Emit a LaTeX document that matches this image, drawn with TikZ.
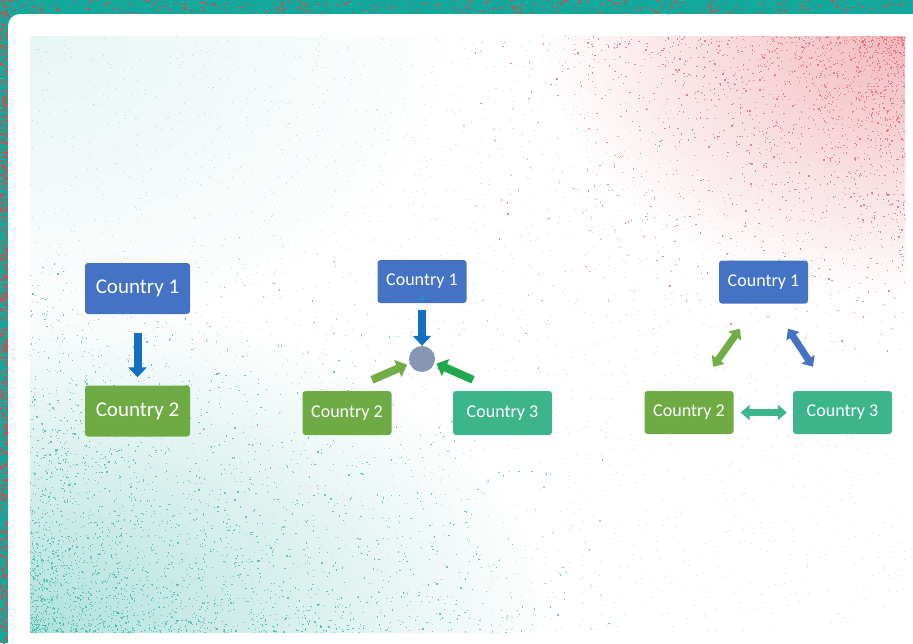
\documentclass[tikz,border=0pt]{standalone}
\usepackage{fontspec}
\setmainfont{Carlito}
\usetikzlibrary{arrows.meta,fadings}

\definecolor{frameteal}{HTML}{12A89B}
\definecolor{framered}{HTML}{D8484B}
\definecolor{boxblue}{HTML}{4472C4}
\definecolor{boxgreen}{HTML}{6EAB45}
\definecolor{boxteal}{HTML}{3DB58A}
\definecolor{arrblue}{HTML}{1170C0}
\definecolor{arrgreen}{HTML}{70AD47}
\definecolor{arrdkgreen}{HTML}{22A84C}
\definecolor{hubgray}{HTML}{8796B2}
\definecolor{pinkdot}{HTML}{E26470}
\definecolor{tealdot}{HTML}{3BB5A8}
\definecolor{graydot}{HTML}{9AA3A6}

\tikzfading[name=spotfade, inner color=transparent!0, outer color=transparent!100]

\tikzset{
  cbox/.style={rounded corners=3pt, text=white, inner sep=0pt,
    font=\fontsize{18}{21}\selectfont, minimum width=89pt, minimum height=43pt},
  bigbox/.style={cbox, font=\fontsize{21}{24}\selectfont,
    minimum width=105pt, minimum height=51pt},
  fat/.style={line width=8pt, -{Triangle[width=18pt,length=10pt]}},
  fatboth/.style={line width=7pt,
    {Triangle[width=15pt,length=9pt]}-{Triangle[width=15pt,length=9pt]}},
  speck/.style={opacity=0.75}
}

\begin{document}
\begin{tikzpicture}[x=1pt,y=-1pt]
\useasboundingbox (0,0) rectangle (913,643);

% frame with red specks
\fill[frameteal] (0,0) rectangle (913,643);
\pgfmathsetseed{11}
\foreach \i in {1,...,320}{
  \pgfmathsetmacro{\px}{913*rnd}\pgfmathsetmacro{\py}{14*rnd}
  \fill[framered] (\px,\py) rectangle ++(1.6,1.6);}
\foreach \i in {1,...,700}{
  \pgfmathsetmacro{\px}{8*rnd}\pgfmathsetmacro{\py}{643*rnd}
  \fill[framered] (\px,\py) rectangle ++(1.6,1.6);}

% white card
\fill[white, rounded corners=12pt] (8,14) rectangle (940,670);

% grainy backdrop
\begin{scope}
  \clip (30,36) rectangle (905,632);
  \fill[white] (30,36) rectangle (905,632);
  \fill[pinkdot, path fading=spotfade, opacity=0.45] (905,36) ellipse [x radius=360, y radius=260];
  \fill[tealdot, path fading=spotfade, opacity=0.40] (30,632) ellipse [x radius=520, y radius=330];
  \fill[tealdot, path fading=spotfade, opacity=0.12] (30,36) ellipse [x radius=420, y radius=300];
  \foreach \i in {1,...,2600}{
    \pgfmathsetmacro{\px}{30+875*rnd}\pgfmathsetmacro{\py}{36+596*rnd}
    \fill[graydot, opacity=0.4] (\px,\py) rectangle ++(1,1);}
  \foreach \i in {1,...,1800}{
    \pgfmathsetmacro{\px}{905-450*rnd*rnd}\pgfmathsetmacro{\py}{36+320*rnd*rnd}
    \fill[pinkdot, speck] (\px,\py) rectangle ++(1.2,1.2);}
  \foreach \i in {1,...,2600}{
    \pgfmathsetmacro{\px}{30+600*rnd*rnd}\pgfmathsetmacro{\py}{632-400*rnd*rnd}
    \fill[tealdot, speck] (\px,\py) rectangle ++(1.2,1.2);}
\end{scope}

% --- one-way link
\node[bigbox, fill=boxblue]  (a1) at (137.5,288.5) {Country 1};
\node[bigbox, fill=boxgreen] (a2) at (137.5,411)   {Country 2};
\draw[fat, arrblue, shorten <=19pt, shorten >=8pt] (a1) -- (a2);

% --- hub
\node[cbox, fill=boxblue]  (b1) at (422,281.5) {Country 1};
\node[cbox, fill=boxgreen, minimum height=44pt] (b2) at (347,413) {Country 2};
\node[cbox, fill=boxteal, minimum width=99pt, minimum height=44pt] (b3) at (502.5,413) {Country 3};
\node[circle, fill=hubgray, minimum size=26pt, inner sep=0pt] (hub) at (422,359) {};
\fill[arrblue!85!white] ([xshift=-4pt,yshift=3pt]b1.south) -- ([xshift=4pt,yshift=3pt]b1.south)
  -- ([yshift=8pt]b1.south) -- cycle;
\draw[fat, arrblue, shorten <=7pt] (b1) -- (hub.north);
\draw[fat, arrgreen] ([xshift=25pt,yshift=11pt]b2.north) -- ([xshift=-3pt]hub.205);
\draw[fat, arrdkgreen] ([xshift=-29.5pt,yshift=11pt]b3.north) -- ([xshift=2pt]hub.-20);

% --- triangle of mutual links
\node[cbox, fill=boxblue]  (c1) at (763.5,282) {Country 1};
\node[cbox, fill=boxgreen] (c2) at (689,412.5) {Country 2};
\node[cbox, fill=boxteal, minimum width=99pt] (c3) at (842.5,412.5) {Country 3};
\draw[fatboth, arrgreen] ([xshift=24pt,yshift=24pt]c2.north) -- ([xshift=-23.5pt,yshift=-25pt]c1.south);
\draw[fatboth, boxblue] ([xshift=24.5pt,yshift=-25pt]c1.south) -- ([xshift=-29.5pt,yshift=24pt]c3.north);
\draw[fatboth, boxteal, shorten <=7pt, shorten >=6pt] (c2) -- (c3);
\end{tikzpicture}
\end{document}
